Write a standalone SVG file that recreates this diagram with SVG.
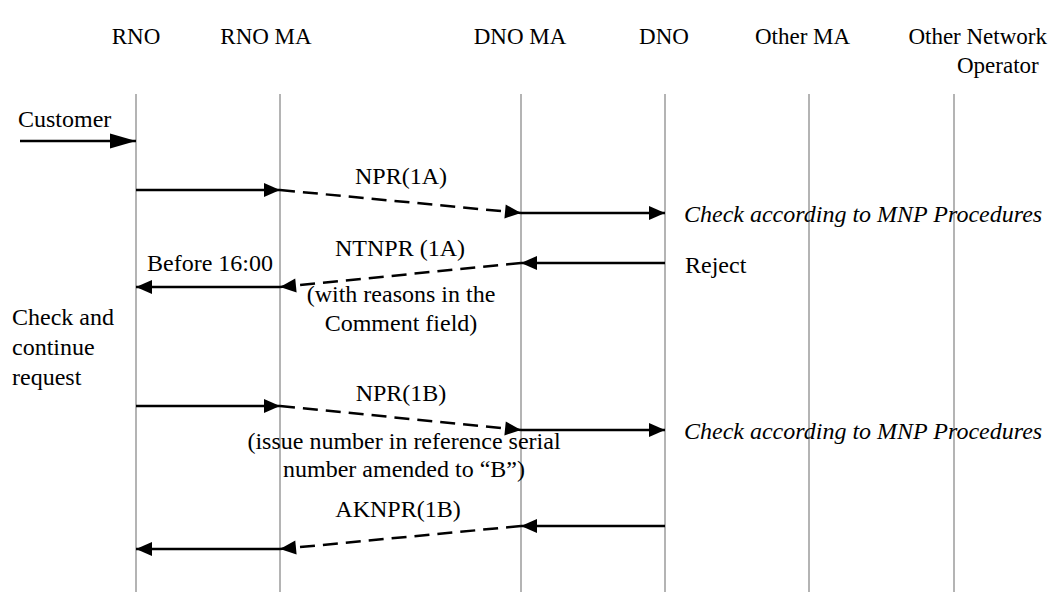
<svg xmlns="http://www.w3.org/2000/svg" width="1051" height="592" viewBox="0 0 1051 592">
  <defs>
    <style>
      text { font-family: "Liberation Serif", "Times New Roman", serif; font-size: 24px; fill: #000; }
      .hd { font-size: 23px; }
      .mid { text-anchor: middle; }
      .it { font-style: italic; }
      .life { stroke: #b4b4b4; stroke-width: 2; fill: none; }
      .msg { stroke: #000; stroke-width: 2.5; fill: none; marker-end: url(#head); }
      .dash { stroke-dasharray: 15 8; }
      .start { stroke: #000; stroke-width: 2.5; fill: none; marker-end: url(#bighead); }
    </style>
    <marker id="head" markerUnits="userSpaceOnUse" markerWidth="17" markerHeight="15" refX="16" refY="7" orient="auto" overflow="visible">
      <path d="M0,0 L16,7 L0,14 Z" fill="#000"/>
    </marker>
    <marker id="bighead" markerUnits="userSpaceOnUse" markerWidth="27" markerHeight="16" refX="26" refY="7.5" orient="auto" overflow="visible">
      <path d="M0,0 L26,7.5 L0,15 Z" fill="#000"/>
    </marker>
  </defs>

  <rect width="1051" height="592" fill="#fff"/>

  <!-- participants with their lifelines -->
  <g id="rno">
    <text class="hd mid" x="136" y="44">RNO</text>
    <line class="life" x1="136" y1="94" x2="136" y2="592"/>
  </g>
  <g id="rno-ma">
    <text class="hd mid" x="266" y="44">RNO MA</text>
    <line class="life" x1="280" y1="94" x2="280" y2="592"/>
  </g>
  <g id="dno-ma">
    <text class="hd mid" x="520" y="44">DNO MA</text>
    <line class="life" x1="521" y1="94" x2="521" y2="592"/>
  </g>
  <g id="dno">
    <text class="hd mid" x="664" y="44">DNO</text>
    <line class="life" x1="665" y1="94" x2="665" y2="592"/>
  </g>
  <g id="other-ma">
    <text class="hd" x="755" y="44">Other MA</text>
    <line class="life" x1="809" y1="94" x2="809" y2="592"/>
  </g>
  <g id="other-operator">
    <text class="hd" x="1047" y="44" text-anchor="end">Other Network</text>
    <text class="hd" x="957" y="73">Operator</text>
    <line class="life" x1="954" y1="94" x2="954" y2="592"/>
  </g>

  <!-- messages -->
  <g id="connectors">
    <line class="start" x1="20" y1="141" x2="136" y2="141"/>

    <line class="msg" x1="136" y1="190" x2="280" y2="190"/>
    <line class="msg dash" x1="280" y1="190" x2="521" y2="213"/>
    <line class="msg" x1="521" y1="213" x2="665" y2="213"/>

    <line class="msg" x1="665" y1="263" x2="521" y2="263"/>
    <line class="msg dash" x1="521" y1="263" x2="280" y2="287"/>
    <line class="msg" x1="280" y1="287" x2="136" y2="287"/>

    <line class="msg" x1="136" y1="406" x2="280" y2="406"/>
    <line class="msg dash" x1="280" y1="406" x2="521" y2="430"/>
    <line class="msg" x1="521" y1="430" x2="665" y2="430"/>

    <line class="msg" x1="665" y1="526" x2="521" y2="526"/>
    <line class="msg dash" x1="521" y1="526" x2="280" y2="549"/>
    <line class="msg" x1="280" y1="549" x2="136" y2="549"/>
  </g>

  <!-- message labels and notes -->
  <g id="labels">
    <text x="18" y="127">Customer</text>

    <text class="mid" x="401" y="184">NPR(1A)</text>
    <text class="it" x="684" y="222">Check according to MNP Procedures</text>

    <text class="mid" x="400" y="256">NTNPR (1A)</text>
    <text x="147" y="271">Before 16:00</text>
    <text x="685" y="273">Reject</text>
    <text class="mid" x="401" y="302">(with reasons in the</text>
    <text class="mid" x="401" y="331">Comment field)</text>

    <text x="12" y="325">Check and</text>
    <text x="12" y="355">continue</text>
    <text x="12" y="385">request</text>

    <text class="mid" x="401" y="401">NPR(1B)</text>
    <text class="it" x="684" y="439">Check according to MNP Procedures</text>
    <text class="mid" x="404" y="449" font-size="23.5">(issue number in reference serial</text>
    <text class="mid" x="404" y="477">number amended to “B”)</text>

    <text class="mid" x="398" y="517">AKNPR(1B)</text>
  </g>
</svg>
